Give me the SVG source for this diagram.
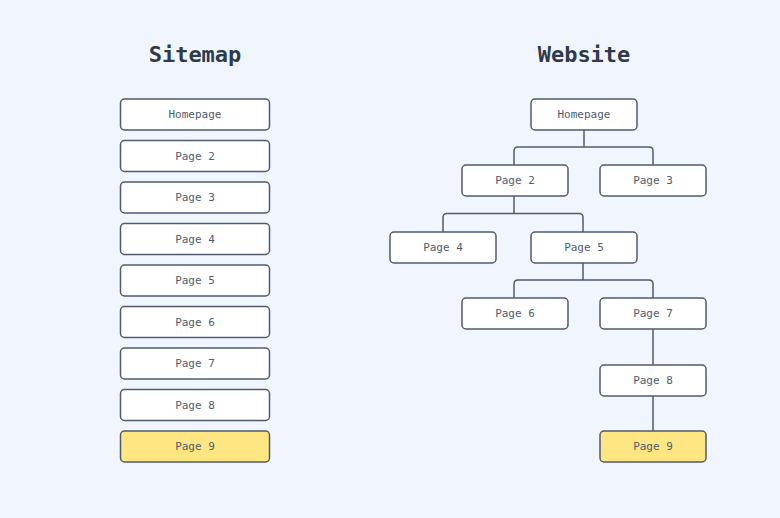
<svg xmlns="http://www.w3.org/2000/svg" width="780" height="518" viewBox="0 0 780 518">
<style>
.bg{fill:#f1f5fe}
.box rect{fill:#ffffff;stroke:#4f5b6d;stroke-width:1.5}
.box.hl rect{fill:#fee683}
.box text{font-family:"DejaVu Sans Mono","Liberation Mono",monospace;font-size:11px;fill:#4f5b6d;text-anchor:middle;dominant-baseline:central}
.title{font-family:"DejaVu Sans Mono","Liberation Mono",monospace;font-size:22px;font-weight:bold;fill:#2d3a4d;text-anchor:middle}
.conn path{fill:none;stroke:#4f5b6d;stroke-width:1.5}
</style>
<rect class="bg" x="0" y="0" width="780" height="518"/>
<text class="title" x="195" y="62">Sitemap</text>
<text class="title" x="584" y="62">Website</text>
<g id="sitemap">
<g id="s-home" class="box"><rect x="120.5" y="99" width="149" height="31" rx="4"/><text x="195" y="114.5">Homepage</text></g>
<g id="s-p2" class="box"><rect x="120.5" y="140.5" width="149" height="31" rx="4"/><text x="195" y="156">Page 2</text></g>
<g id="s-p3" class="box"><rect x="120.5" y="182" width="149" height="31" rx="4"/><text x="195" y="197.5">Page 3</text></g>
<g id="s-p4" class="box"><rect x="120.5" y="223.5" width="149" height="31" rx="4"/><text x="195" y="239">Page 4</text></g>
<g id="s-p5" class="box"><rect x="120.5" y="265" width="149" height="31" rx="4"/><text x="195" y="280.5">Page 5</text></g>
<g id="s-p6" class="box"><rect x="120.5" y="306.5" width="149" height="31" rx="4"/><text x="195" y="322">Page 6</text></g>
<g id="s-p7" class="box"><rect x="120.5" y="348" width="149" height="31" rx="4"/><text x="195" y="363.5">Page 7</text></g>
<g id="s-p8" class="box"><rect x="120.5" y="389.5" width="149" height="31" rx="4"/><text x="195" y="405">Page 8</text></g>
<g id="s-p9" class="box hl"><rect x="120.5" y="431" width="149" height="31" rx="4"/><text x="195" y="446.5">Page 9</text></g>
</g>
<g id="connectors" class="conn">
<path d="M584 130 V147 M584 147 H518 Q514 147 514 151 V165 M584 147 H649 Q653 147 653 151 V165"/>
<path d="M514 196 V213.5 M514 213.5 H447 Q443 213.5 443 217.5 V232 M514 213.5 H579 Q583 213.5 583 217.5 V232"/>
<path d="M583 263 V280 M583 280 H518 Q514 280 514 284 V298 M583 280 H649 Q653 280 653 284 V298"/>
<path d="M653 329 V365"/>
<path d="M653 396 V431"/>
</g>
<g id="website">
<g id="w-home" class="box"><rect x="531" y="99" width="106" height="31" rx="4"/><text x="584" y="114.5">Homepage</text></g>
<g id="w-p2" class="box"><rect x="462" y="165" width="106" height="31" rx="4"/><text x="515" y="180.5">Page 2</text></g>
<g id="w-p3" class="box"><rect x="600" y="165" width="106" height="31" rx="4"/><text x="653" y="180.5">Page 3</text></g>
<g id="w-p4" class="box"><rect x="390" y="232" width="106" height="31" rx="4"/><text x="443" y="247.5">Page 4</text></g>
<g id="w-p5" class="box"><rect x="531" y="232" width="106" height="31" rx="4"/><text x="584" y="247.5">Page 5</text></g>
<g id="w-p6" class="box"><rect x="462" y="298" width="106" height="31" rx="4"/><text x="515" y="313.5">Page 6</text></g>
<g id="w-p7" class="box"><rect x="600" y="298" width="106" height="31" rx="4"/><text x="653" y="313.5">Page 7</text></g>
<g id="w-p8" class="box"><rect x="600" y="365" width="106" height="31" rx="4"/><text x="653" y="380.5">Page 8</text></g>
<g id="w-p9" class="box hl"><rect x="600" y="431" width="106" height="31" rx="4"/><text x="653" y="446.5">Page 9</text></g>
</g>
</svg>
